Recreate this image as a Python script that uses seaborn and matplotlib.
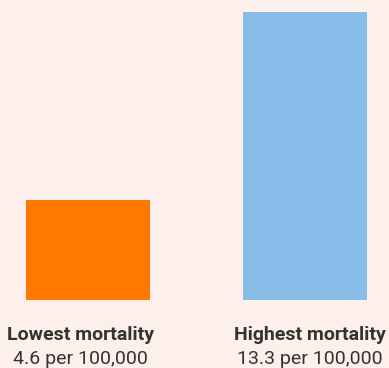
import pandas as pd
import matplotlib.pyplot as plt
import seaborn as sns

categories = ["Lowest mortality", "Highest mortality"]
values = [4.6, 13.3]
value_labels = ["4.6 per 100,000", "13.3 per 100,000"]
colors = ["#ff7800", "#88bde9"]

def main():
    bg = "#fdefea"
    plt.rcParams['font.family'] = ['Roboto', 'DejaVu Sans']

    df = pd.DataFrame({"cat": categories, "val": values})

    fig = plt.figure(figsize=(3.89, 3.68), dpi=100, facecolor=bg)
    ax = fig.add_axes([0, 68 / 368, 1, 300 / 368])
    ax.set_facecolor(bg)

    sns.barplot(x="cat", y="val", hue="cat", data=df, palette=colors,
                width=124 / 217, legend=False, ax=ax, saturation=1)

    ax.set_xlim(-88 / 217, (389 - 88) / 217)
    ax.set_ylim(0, 300 / (288 / 13.3))
    ax.axis("off")

    label_x = [80.5 / 389, 310 / 389]
    for x, name, lab in zip(label_x, categories, value_labels):
        fig.text(x, 1 - 335 / 368, name, ha="center", va="center",
                 fontsize=14, fontweight="bold", color="#333333")
        fig.text(x, 1 - 359 / 368, lab, ha="center", va="center",
                 fontsize=14, color="#333333")

    fig.savefig("out.png", dpi=100, facecolor=bg)

if __name__ == "__main__":
    main()
